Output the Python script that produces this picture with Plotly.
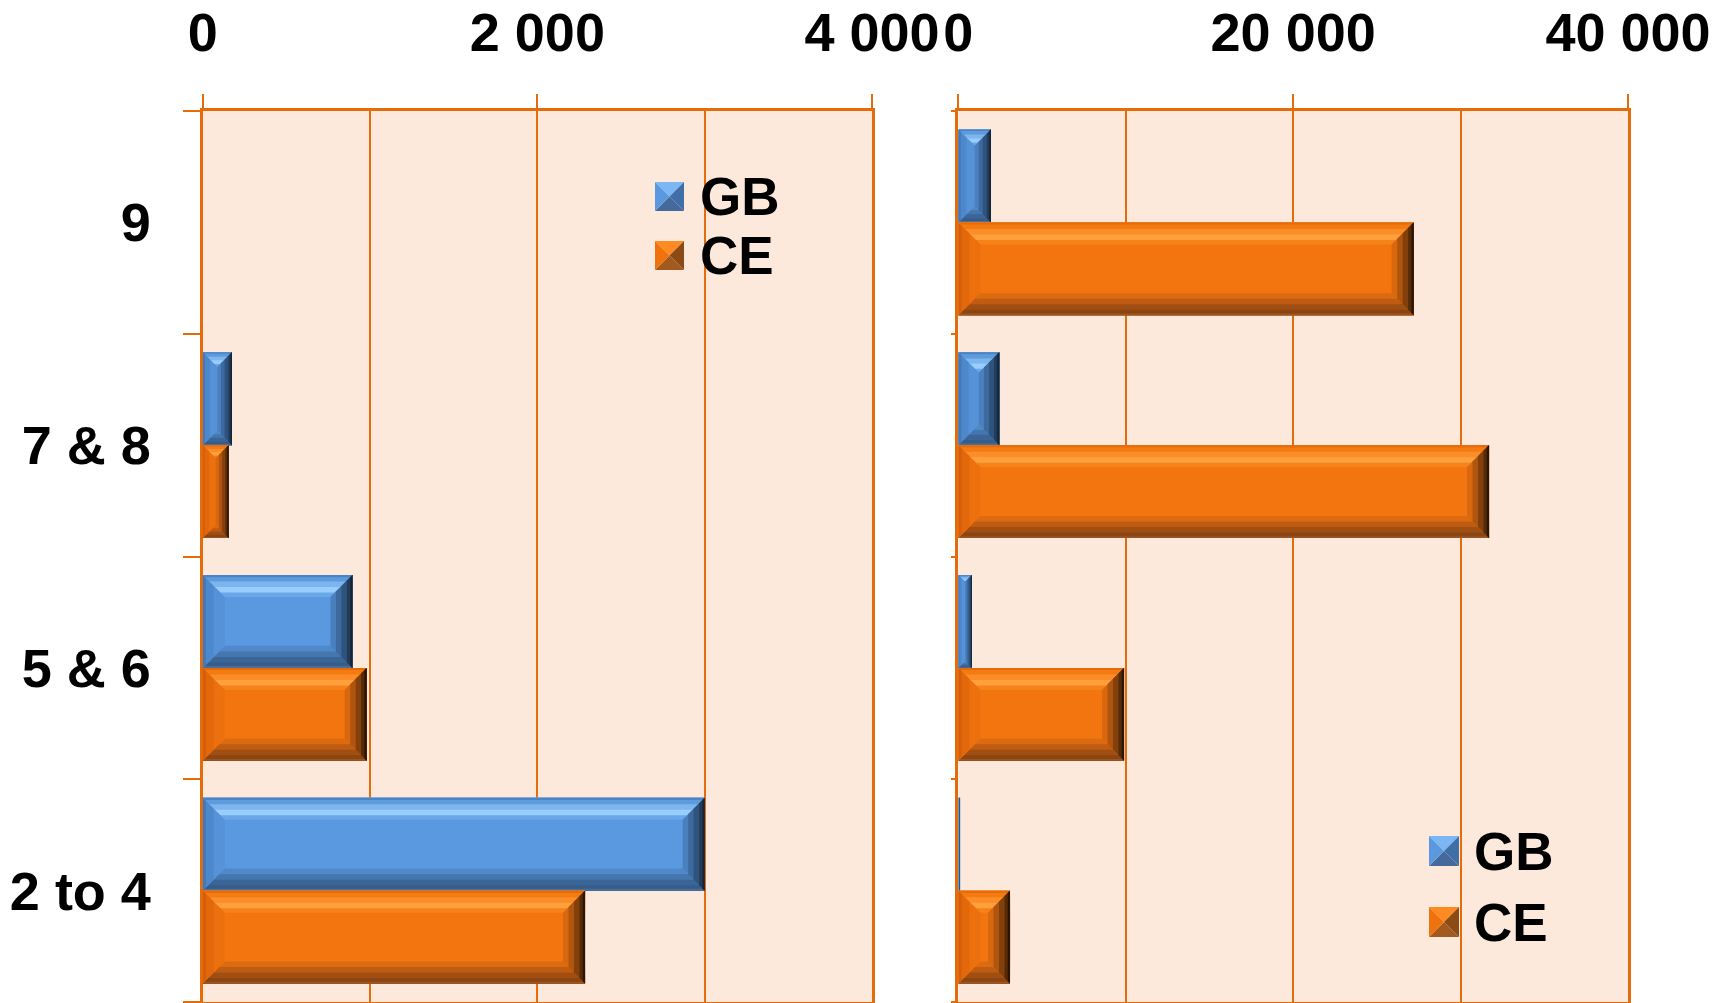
import plotly.graph_objects as go

# ---- data -------------------------------------------------------------
categories = ["9", "7 & 8", "5 & 6", "2 to 4"]
series_names = ["GB", "CE"]

gb_left = [0, 175, 895, 3000]
ce_left = [0, 155, 980, 2285]
gb_right = [1950, 2450, 810, 100]
ce_right = [27200, 31700, 9900, 3090]

left_tickvals = [0, 2000, 4000]
left_ticktext = ["0", "2 000", "4 000"]
right_tickvals = [0, 20000, 40000]
right_ticktext = ["0", "20 000", "40 000"]

# ---- style ------------------------------------------------------------
W, H = 1720, 1003
M_TOP, M_BOT = 111, 1
PLOT_H = H - M_TOP - M_BOT
LEFT_DOM = [202.7 / W, 872.0 / W]
RIGHT_DOM = [958.3 / W, 1628.0 / W]
LEFT_MAX, RIGHT_MAX = 4000, 40000

ORANGE_LINE = "#E46C0A"
PLOT_BG = "#FCE9DB"
BLUE = "#5A98DF"
ORANGE = "#F27510"
FONT = "Liberation Sans, Arial, sans-serif"

BAR_W = 0.417          # each bar's thickness in category units
BEVEL_PX = 22          # bevel depth in pixels

# bevel gradient layers: (fraction of depth, colour), widest first
BEVEL = {
    "blue": {
        "top": [(1.0, "#6AA6E8"), (0.8, "#99CDFD"), (0.55, "#7DB5EE"), (0.3, "#5E9BDD"), (0.1, "#4B83C5")],
        "bottom": [(1.0, "#5089C9"), (0.75, "#4576AE"), (0.5, "#3C6597"), (0.25, "#365C8A"), (0.08, "#4A6E9A")],
        "right": [(1.0, "#4B80BE"), (0.75, "#3D6A9E"), (0.5, "#2F537C"), (0.25, "#213B58"), (0.1, "#142538")],
        "left": [(1.0, "#5592D8"), (0.5, "#4D88CC"), (0.15, "#4479B8")],
    },
    "orange": {
        "top": [(1.0, "#F6821A"), (0.8, "#FFA03C"), (0.55, "#FB8E28"), (0.3, "#F47A12"), (0.1, "#E56A08")],
        "bottom": [(1.0, "#DC6A10"), (0.75, "#BF5C12"), (0.5, "#A14E12"), (0.25, "#8A4512"), (0.08, "#9A5520")],
        "right": [(1.0, "#D86810"), (0.75, "#B0550E"), (0.5, "#83400B"), (0.25, "#552A08"), (0.1, "#2A1504")],
        "left": [(1.0, "#EC700E"), (0.5, "#E2680B"), (0.15, "#D45F08")],
    },
}

positions = list(range(len(categories)))
px_per_y = PLOT_H / len(categories)


def bevel_shapes(value, y_top, xmax, dom, xref, yref, palette):
    """Overlay shapes giving a bar a bevelled, 3-D look."""
    if value <= 0:
        return []
    px_per_x = (dom[1] - dom[0]) * W / xmax
    w = value * px_per_x
    h = BAR_W * px_per_y
    d = min(BEVEL_PX, w / 2, h / 2)

    def to_path(pts):
        coords = [(px / px_per_x, y_top + py / px_per_y) for px, py in pts]
        return "M " + " L ".join(f"{x:.4f},{y:.5f}" for x, y in coords) + " Z"

    sides = {
        "top": lambda t: [(0, 0), (w, 0), (w - t, t), (t, t)],
        "bottom": lambda t: [(0, h), (w, h), (w - t, h - t), (t, h - t)],
        "left": lambda t: [(0, 0), (0, h), (t, h - t), (t, t)],
        "right": lambda t: [(w, 0), (w, h), (w - t, h - t), (w - t, t)],
    }
    out = []
    for side in ["top", "bottom", "left", "right"]:
        for frac, col in palette[side]:
            out.append(dict(type="path", path=to_path(sides[side](d * frac)),
                            xref=xref, yref=yref, fillcolor=col,
                            line=dict(width=0), layer="above"))
    return out


fig = go.Figure()
shapes = []

panels = [
    (gb_left, ce_left, "x", "y", LEFT_MAX, LEFT_DOM),
    (gb_right, ce_right, "x2", "y2", RIGHT_MAX, RIGHT_DOM),
]
for gb_vals, ce_vals, xa, ya, xmax, dom in panels:
    for name, vals, color, pal, off in [
        (series_names[0], gb_vals, BLUE, "blue", -BAR_W),
        (series_names[1], ce_vals, ORANGE, "orange", 0.0),
    ]:
        fig.add_trace(go.Bar(
            y=positions, x=vals, name=name, orientation="h",
            width=BAR_W, offset=off, xaxis=xa, yaxis=ya,
            marker=dict(color=color, line=dict(width=0)),
            showlegend=False,
        ))
        for p, v in zip(positions, vals):
            shapes += bevel_shapes(v, p + off, xmax, dom, xa, ya, BEVEL[pal])


# ---- legends (pyramid-shaded squares + labels) -------------------------
def paper_x(px):
    return px / W


def paper_y(py):
    return (H - M_BOT - py) / PLOT_H


LEGEND_PYRAMID = {
    "blue": {"top": "#7BB7F4", "left": "#5A98DF", "right": "#3F6FA6", "bottom": "#44699A"},
    "orange": {"top": "#FF8A22", "left": "#EE730F", "right": "#8C4A14", "bottom": "#A35A1E"},
}
annotations = []


def legend_item(x0, y0, size, pal, label, text_x):
    cx, cy = x0 + size / 2, y0 + size / 2
    tl, tr = (x0, y0), (x0 + size, y0)
    bl, br = (x0, y0 + size), (x0 + size, y0 + size)
    tris = {"top": [tl, tr], "right": [tr, br], "bottom": [br, bl], "left": [bl, tl]}
    for side, (a, b) in tris.items():
        pts = [a, b, (cx, cy)]
        path = "M " + " L ".join(f"{paper_x(px):.5f},{paper_y(py):.5f}" for px, py in pts) + " Z"
        shapes.append(dict(type="path", path=path, xref="paper", yref="paper",
                           fillcolor=LEGEND_PYRAMID[pal][side], line=dict(width=0)))
    annotations.append(dict(x=paper_x(text_x), y=paper_y(cy), xref="paper", yref="paper",
                            text=label, showarrow=False, xanchor="left", yanchor="middle",
                            font=dict(family=FONT, size=53, color="black", weight="bold")))


legend_item(655, 182, 29, "blue", series_names[0], 698)
legend_item(655, 241, 29, "orange", series_names[1], 698)
legend_item(1429, 836, 30, "blue", series_names[0], 1472)
legend_item(1429, 907, 30, "orange", series_names[1], 1472)

# ---- axes ---------------------------------------------------------------
tick_font = dict(family=FONT, size=54, color="black", weight="bold")


def x_axis(dom, anchor, xmax, tvals, ttext, minor_step):
    return dict(
        domain=dom, anchor=anchor, range=[0, xmax], side="top", automargin=False,
        tickmode="array", tickvals=tvals, ticktext=ttext,
        ticks="outside", ticklen=14, tickwidth=2, tickcolor=ORANGE_LINE,
        ticklabelstandoff=21, tickfont=tick_font,
        showgrid=True, gridcolor=ORANGE_LINE, gridwidth=2,
        minor=dict(tickmode="linear", tick0=0, dtick=minor_step, showgrid=True,
                   gridcolor=ORANGE_LINE, gridwidth=2, ticks=""),
        showline=True, linecolor=ORANGE_LINE, linewidth=3, mirror=True,
        zeroline=False, fixedrange=True,
    )


def y_axis(anchor, show_labels, minor_len):
    return dict(
        domain=[0, 1], anchor=anchor, range=[len(categories) - 0.5, -0.5],
        automargin=False,
        tickmode="array", tickvals=positions, ticktext=categories,
        showticklabels=show_labels, ticks="", ticklabelstandoff=38,
        tickfont=tick_font, showgrid=False,
        minor=dict(tickmode="array",
                   tickvals=[p - 0.5 for p in positions] + [positions[-1] + 0.5],
                   ticks="outside", ticklen=minor_len, tickwidth=2,
                   tickcolor=ORANGE_LINE, showgrid=False),
        showline=True, linecolor=ORANGE_LINE, linewidth=3, mirror=True,
        zeroline=False, fixedrange=True,
    )


fig.update_layout(
    width=W, height=H,
    margin=dict(l=0, r=0, t=M_TOP, b=M_BOT, pad=0, autoexpand=False),
    paper_bgcolor="white", plot_bgcolor=PLOT_BG,
    barmode="overlay", showlegend=False,
    xaxis=x_axis(LEFT_DOM, "y", LEFT_MAX, left_tickvals, left_ticktext, 1000),
    xaxis2=x_axis(RIGHT_DOM, "y2", RIGHT_MAX, right_tickvals, right_ticktext, 10000),
    yaxis=y_axis("x", True, 17),
    yaxis2=y_axis("x2", False, 4),
    shapes=shapes, annotations=annotations,
    font=dict(family=FONT),
)

fig.write_html("out.html")
